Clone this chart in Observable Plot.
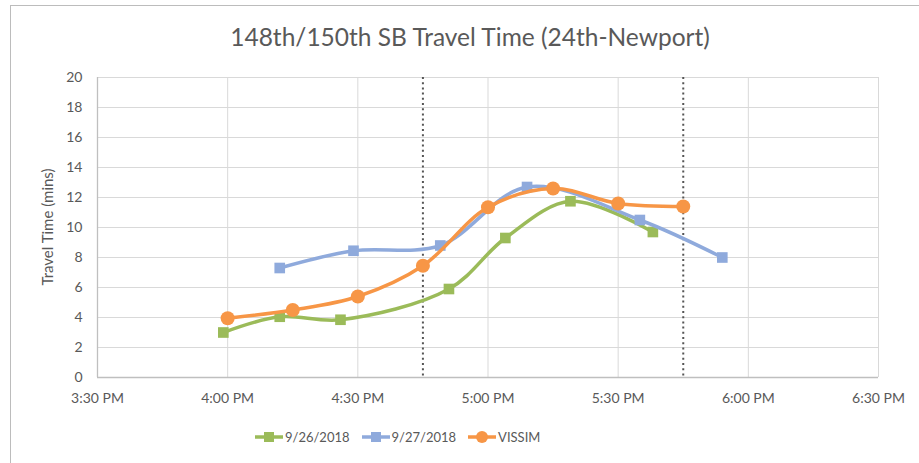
<!DOCTYPE html>
<html>
<head>
<meta charset="utf-8">
<script src="https://cdn.jsdelivr.net/npm/d3@7"></script>
<script src="https://cdn.jsdelivr.net/npm/@observablehq/plot@0.6"></script>
<style>
  html, body { margin: 0; padding: 0; background: #fff; overflow: hidden; }
  body { width: 919px; height: 463px; position: relative; font-family: Lato, "Open Sans", sans-serif; }
  #frame { position: absolute; left: 10px; top: 5px; width: 920px; height: 470px; border: 1px solid #bcbcbc; box-sizing: border-box; }
  #title { position: absolute; left: 0; top: 22px; width: 940px; text-align: center; font-size: 24.5px; color: #595959; }
  #chart { position: absolute; left: 0; top: 60px; }
  #ylabel { position: absolute; left: 47px; top: 227px; transform: translate(-50%, -50%) rotate(-90deg); white-space: nowrap; font-size: 15px; color: #595959; }
  #legend { position: absolute; left: 255px; top: 429px; display: flex; gap: 12px; font-size: 13px; color: #595959; }
  .item { display: flex; align-items: center; gap: 2px; }
</style>
</head>
<body>
<div id="frame"></div>
<div id="title">148th/150th SB Travel Time (24th-Newport)</div>
<div id="chart"></div>
<div id="ylabel">Travel Time (mins)</div>
<div id="legend"></div>
<script>
// ---- data ----
const seriesNames = ["9/26/2018", "9/27/2018", "VISSIM"];
const times926 = ["15:59", "16:12", "16:26", "16:51", "17:04", "17:19", "17:38"];
const values926 = [3.0, 4.05, 3.85, 5.9, 9.3, 11.75, 9.7];
const times927 = ["16:12", "16:29", "16:49", "17:09", "17:35", "17:54"];
const values927 = [7.3, 8.45, 8.8, 12.7, 10.5, 8.0];
const timesVissim = ["16:00", "16:15", "16:30", "16:45", "17:00", "17:15", "17:30", "17:45"];
const valuesVissim = [3.95, 4.5, 5.4, 7.45, 11.35, 12.6, 11.6, 11.4];
const markerTimes = ["16:45", "17:45"];
const xTickTimes = ["15:30", "16:00", "16:30", "17:00", "17:30", "18:00", "18:30"];
const yTicks = [0, 2, 4, 6, 8, 10, 12, 14, 16, 18, 20];

const colors = ["#9bbb59", "#8faadc", "#f79646"];

function toDate(s) {
  const [h, m] = s.split(":").map(Number);
  return new Date(Date.UTC(2018, 8, 26, h, m));
}
function fmt(d) {
  let h = d.getUTCHours(), m = d.getUTCMinutes();
  const ap = h >= 12 ? "PM" : "AM";
  h = h % 12; if (h === 0) h = 12;
  return `${h}:${String(m).padStart(2, "0")} ${ap}`;
}
const rows = (times, values) => times.map((t, i) => ({x: toDate(t), y: values[i]}));
const d926 = rows(times926, values926);
const d927 = rows(times927, values927);
const dVis = rows(timesVissim, valuesVissim);
const xTicks = xTickTimes.map(toDate);
const markers = markerTimes.map(toDate);

const lineOpts = (c) => ({x: "x", y: "y", stroke: c, strokeWidth: 3.5, curve: "catmull-rom"});

const plot = Plot.plot({
  width: 919,
  height: 360,
  marginLeft: 97,
  marginRight: 41,
  marginTop: 17,
  marginBottom: 43,
  style: {fontFamily: "Lato, 'Open Sans', sans-serif", fontSize: "14px", color: "#595959", background: "transparent", overflow: "visible"},
  x: {type: "utc", domain: [xTicks[0], xTicks[xTicks.length - 1]]},
  y: {domain: [0, 20]},
  marks: [
    Plot.gridX(xTicks, {stroke: "#d9d9d9", strokeOpacity: 1, strokeWidth: 1}),
    Plot.gridY(yTicks, {stroke: "#d9d9d9", strokeOpacity: 1, strokeWidth: 1}),
    Plot.ruleX([xTicks[0]], {stroke: "#bfbfbf", strokeWidth: 1.3}),
    Plot.ruleY([0], {stroke: "#bfbfbf", strokeWidth: 1.3}),
    Plot.ruleX(markers, {stroke: "#555555", strokeWidth: 2, strokeDasharray: "2,3.2"}),
    Plot.axisX({ticks: xTicks, tickSize: 0, tickPadding: 16, tickFormat: fmt, label: null}),
    Plot.axisY({ticks: yTicks, tickSize: 0, tickPadding: 15, label: null}),
    Plot.line(d926, lineOpts(colors[0])),
    Plot.dot(d926, {x: "x", y: "y", symbol: "square", r: 6, fill: colors[0], stroke: "none"}),
    Plot.line(d927, lineOpts(colors[1])),
    Plot.dot(d927, {x: "x", y: "y", symbol: "square", r: 6, fill: colors[1], stroke: "none"}),
    Plot.line(dVis, lineOpts(colors[2])),
    Plot.dot(dVis, {x: "x", y: "y", symbol: "circle", r: 7, fill: colors[2], stroke: "none"})
  ]
});
document.getElementById("chart").appendChild(plot);

// legend
const legend = d3.select("#legend");
seriesNames.forEach((name, i) => {
  const item = legend.append("div").attr("class", "item");
  const svg = item.append("svg").attr("width", 28).attr("height", 14);
  svg.append("line").attr("x1", 0).attr("x2", 28).attr("y1", 7).attr("y2", 7)
     .attr("stroke", colors[i]).attr("stroke-width", 3.5);
  if (i < 2) svg.append("rect").attr("x", 9).attr("y", 2).attr("width", 10).attr("height", 10).attr("fill", colors[i]);
  else svg.append("circle").attr("cx", 14).attr("cy", 7).attr("r", 6).attr("fill", colors[i]);
  item.append("span").text(name);
});
</script>
</body>
</html>
